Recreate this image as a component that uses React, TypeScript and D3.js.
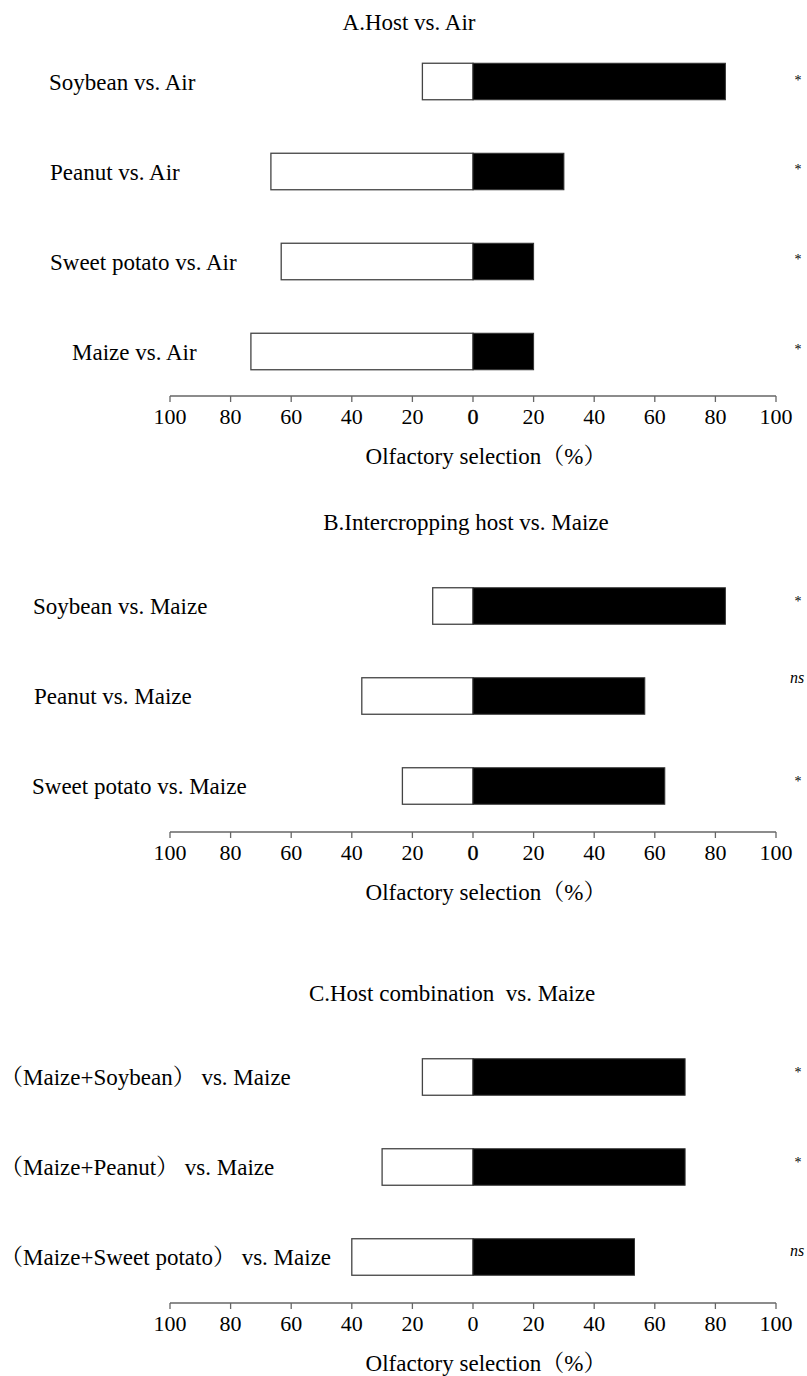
import React from "react";
import * as d3 from "d3";

// ---------- data ----------
const panelATitle = "A.Host vs. Air";
const panelACategories = ["Soybean vs. Air", "Peanut vs. Air", "Sweet potato vs. Air", "Maize vs. Air"];
const panelAWhite = [16.7, 66.7, 63.3, 73.3];
const panelABlack = [83.3, 30, 20, 20];
const panelASig = ["*", "*", "*", "*"];

const panelBTitle = "B.Intercropping host vs. Maize";
const panelBCategories = ["Soybean vs. Maize", "Peanut vs. Maize", "Sweet potato vs. Maize"];
const panelBWhite = [13.3, 36.7, 23.3];
const panelBBlack = [83.3, 56.7, 63.3];
const panelBSig = ["*", "ns", "*"];

const panelCTitle = "C.Host combination  vs. Maize";
const panelCCategories = ["（Maize+Soybean） vs. Maize", "（Maize+Peanut） vs. Maize", "（Maize+Sweet potato） vs. Maize"];
const panelCWhite = [16.7, 30, 40];
const panelCBlack = [70, 70, 53.3];
const panelCSig = ["*", "*", "ns"];

const tickValues = [-100, -80, -60, -40, -20, 0, 20, 40, 60, 80, 100];
const axisTitle = "Olfactory selection（%）";

// ---------- layout ----------
const W = 807;
const H = 1376;
const FONT = "'Liberation Serif', 'Times New Roman', 'Noto Serif CJK SC', 'Noto Sans CJK SC', serif";
const x = d3.scaleLinear().domain([-100, 100]).range([170, 776]);
const BAR_H = 36.5;

type Panel = {
  title: string;
  titleX: number;
  titleY: number;
  cats: string[];
  white: number[];
  black: number[];
  sig: string[];
  firstCenter: number;
  labelX: number[];
  sigDy: number[];
  axisY: number;
  boldZero: boolean;
};

const panels: Panel[] = [
  {
    title: panelATitle, titleX: 409, titleY: 30,
    cats: panelACategories, white: panelAWhite, black: panelABlack, sig: panelASig,
    firstCenter: 81.5, labelX: [49, 50, 50, 72], sigDy: [-6, -7, -7, -7],
    axisY: 396, boldZero: true,
  },
  {
    title: panelBTitle, titleX: 466, titleY: 530,
    cats: panelBCategories, white: panelBWhite, black: panelBBlack, sig: panelBSig,
    firstCenter: 606, labelX: [33, 34, 32], sigDy: [-9, -18, -9],
    axisY: 832, boldZero: true,
  },
  {
    title: panelCTitle, titleX: 452, titleY: 1001,
    cats: panelCCategories, white: panelCWhite, black: panelCBlack, sig: panelCSig,
    firstCenter: 1077, labelX: [0, 0, 0], sigDy: [-9, -9, -6],
    axisY: 1303, boldZero: false,
  },
];

function PanelView({ p }: { p: Panel }) {
  const y = d3
    .scalePoint<string>()
    .domain(p.cats)
    .range([p.firstCenter, p.firstCenter + 90 * (p.cats.length - 1)]);
  const x0 = x(0);
  return (
    <g>
      <text
        x={p.titleX}
        y={p.titleY}
        textAnchor="middle"
        fontSize={23}
        fontFamily={FONT}
        fill="#000"
        style={{ whiteSpace: "pre" }}
      >
        {p.title}
      </text>
      {p.cats.map((c, i) => {
        const cy = y(c) as number;
        const isNs = p.sig[i] === "ns";
        return (
          <g key={c}>
            <text x={p.labelX[i]} y={cy + 8} fontSize={23} fontFamily={FONT} fill="#000">
              {c}
            </text>
            <rect
              x={x(-p.white[i])}
              y={cy - BAR_H / 2}
              width={x0 - x(-p.white[i])}
              height={BAR_H}
              fill="#fff"
              stroke="#444"
              strokeWidth={1.3}
            />
            <rect
              x={x0}
              y={cy - BAR_H / 2}
              width={x(p.black[i]) - x0}
              height={BAR_H}
              fill="#000"
              stroke="#333"
              strokeWidth={1}
            />
            <text
              x={isNs ? 797 : 798}
              y={cy + p.sigDy[i] + (isNs ? 5 : 9)}
              textAnchor="middle"
              fontSize={isNs ? 16 : 14}
              fontStyle={isNs ? "italic" : "normal"}
              fontFamily={FONT}
              fill="#000"
            >
              {p.sig[i]}
            </text>
          </g>
        );
      })}
      <line x1={x(-100)} x2={x(100)} y1={p.axisY} y2={p.axisY} stroke="#666" strokeWidth={1.5} />
      {tickValues.map((t) => (
        <g key={t}>
          <line x1={x(t)} x2={x(t)} y1={p.axisY} y2={p.axisY + 6} stroke="#666" strokeWidth={1.3} />
          <text
            x={x(t)}
            y={p.axisY + 28}
            textAnchor="middle"
            fontSize={22}
            fontFamily={FONT}
            fill="#000"
            stroke={t === 0 && p.boldZero ? "#000" : "none"}
            strokeWidth={t === 0 && p.boldZero ? 0.4 : 0}
          >
            {Math.abs(t)}
          </text>
        </g>
      ))}
      <text x={486} y={p.axisY + 68} textAnchor="middle" fontSize={23} fontFamily={FONT} fill="#000">
        {axisTitle}
      </text>
    </g>
  );
}

export default function App() {
  return (
    <svg
      width={W}
      height={H}
      viewBox={`0 0 ${W} ${H}`}
      style={{ position: "absolute", left: 0, top: 0, background: "#fff" }}
    >
      <rect x={0} y={0} width={W} height={H} fill="#fff" />
      {panels.map((p) => (
        <PanelView key={p.title} p={p} />
      ))}
    </svg>
  );
}
